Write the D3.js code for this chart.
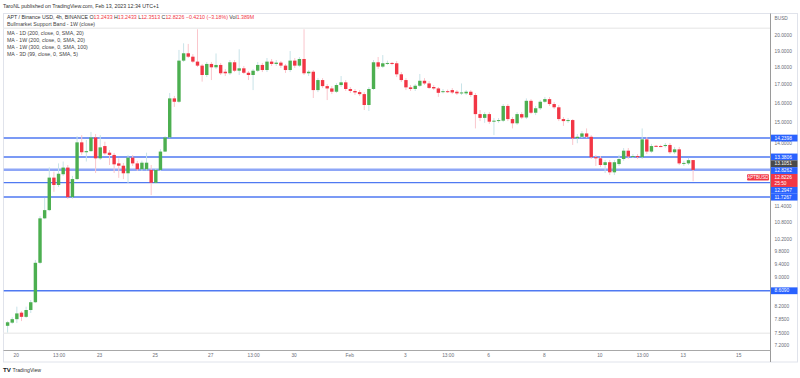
<!DOCTYPE html>
<html>
<head>
<meta charset="utf-8">
<script src="https://cdn.jsdelivr.net/npm/d3@7"></script>
<style>
  body { margin: 0; background: #fff; }
  svg { display: block; font-family: "Liberation Sans", Arial, sans-serif; }
</style>
</head>
<body>
<div id="chart"></div>
<script>
// APT / BUSD, 4h candles, times written as UTC+1 wall clock
const firstCandle = "2023-01-19T17:00";

const opens = [
    7.67, 7.75, 7.84, 8.01, 7.90, 8.08, 8.29, 9.44, 10.93, 11.23,
    12.50, 12.20, 12.64, 12.92, 11.72, 12.44, 14.04, 13.59, 13.64, 14.27,
    13.32, 13.87, 13.57, 13.47, 13.10, 13.00, 12.68, 13.35, 13.10, 12.85,
    12.85, 12.82, 12.29, 12.82, 13.62, 14.27, 16.23, 16.05, 18.38, 18.83,
    18.62, 18.32, 18.08, 17.53, 18.18, 17.98, 18.12, 17.72, 17.63, 18.28,
    17.78, 17.92, 17.66, 17.53, 17.78, 18.12, 17.82, 18.32, 18.18, 18.26,
    18.08, 17.82, 18.38, 18.08, 18.48, 17.63, 17.72, 16.68, 17.24, 16.90,
    16.77, 16.59, 16.96, 17.11, 16.74, 16.63, 16.57, 16.46, 15.88, 16.74,
    18.28, 18.02, 18.22, 18.24, 18.22, 17.57, 17.24, 16.83, 16.74, 16.92,
    17.20, 17.05, 16.85, 16.77, 16.57, 16.62, 16.68, 16.59, 16.50, 16.50,
    16.59, 16.41, 15.41, 15.22, 15.41, 15.03, 15.06, 15.08, 15.83, 15.16,
    14.95, 15.41, 15.24, 16.10, 15.48, 15.71, 16.05, 16.19, 15.93, 15.76,
    15.16, 15.06, 15.11, 14.23, 14.30, 14.46, 14.30, 13.37, 13.32, 13.03,
    13.15, 12.72, 13.07, 13.29, 13.66, 13.40, 13.42, 13.37, 14.18, 13.62,
    13.88, 13.87, 13.87, 13.92, 13.59, 13.72, 13.10, 13.10, 13.2433
];
const highs = [
    7.79, 7.89, 8.17, 8.05, 8.17, 8.35, 9.53, 11.01, 11.69, 12.93,
    12.75, 13.10, 13.18, 13.03, 12.57, 14.33, 14.38, 14.15, 14.53, 14.43,
    14.38, 14.07, 13.69, 13.56, 13.32, 13.12, 13.47, 13.47, 13.21, 13.22,
    13.57, 13.03, 12.90, 13.73, 14.33, 16.52, 16.36, 19.04, 19.46, 19.42,
    18.78, 20.38, 18.18, 18.30, 18.30, 18.82, 18.24, 17.88, 18.42, 18.42,
    19.08, 18.06, 17.76, 17.88, 18.30, 18.24, 18.54, 18.48, 18.42, 18.36,
    18.18, 18.97, 18.54, 18.60, 20.38, 17.82, 17.82, 17.35, 17.35, 17.02,
    16.90, 17.07, 17.47, 17.24, 16.85, 16.74, 16.68, 16.57, 16.85, 18.42,
    18.60, 18.72, 18.38, 18.30, 18.36, 17.70, 17.35, 16.96, 17.02, 17.59,
    17.35, 17.18, 16.96, 16.85, 16.74, 16.71, 16.79, 16.68, 17.05, 16.68,
    16.68, 16.52, 15.62, 15.51, 15.51, 15.21, 15.21, 15.93, 15.93, 15.26,
    15.51, 15.51, 16.23, 16.19, 15.83, 16.14, 16.31, 16.30, 16.04, 15.88,
    15.26, 15.21, 15.16, 14.43, 14.57, 14.70, 14.38, 13.47, 13.42, 13.25,
    13.25, 13.25, 13.47, 13.78, 13.78, 13.51, 13.51, 14.70, 14.29, 13.97,
    13.92, 13.93, 14.01, 14.01, 13.83, 13.83, 13.21, 13.34, 13.2433
];
const lows = [
    7.50, 7.72, 7.74, 7.79, 7.87, 8.00, 8.27, 9.40, 10.90, 11.19,
    11.93, 12.12, 12.57, 11.65, 11.66, 12.40, 13.47, 13.18, 13.60, 12.69,
    13.25, 13.47, 13.03, 12.69, 12.49, 12.44, 12.28, 12.99, 12.78, 12.78,
    12.80, 11.80, 12.24, 12.78, 13.60, 14.24, 15.78, 15.99, 18.30, 18.54,
    18.24, 18.00, 17.15, 17.41, 17.24, 17.88, 17.53, 17.47, 17.53, 17.70,
    17.53, 17.59, 17.24, 16.68, 17.70, 17.70, 17.70, 18.06, 18.06, 17.94,
    17.65, 17.70, 17.94, 18.00, 17.53, 17.47, 16.25, 16.57, 16.79, 16.14,
    16.46, 16.52, 16.85, 16.63, 16.52, 16.41, 16.36, 15.62, 15.57, 16.68,
    17.88, 17.94, 18.12, 18.10, 17.41, 17.13, 16.68, 16.63, 16.63, 16.85,
    16.96, 16.74, 16.68, 16.31, 16.50, 16.52, 16.46, 16.41, 16.41, 16.41,
    16.30, 14.70, 15.06, 14.97, 14.92, 14.38, 14.97, 15.01, 15.06, 14.70,
    14.87, 15.16, 15.16, 15.41, 15.36, 15.62, 15.99, 15.83, 15.67, 15.06,
    14.82, 14.97, 13.92, 14.00, 14.24, 14.24, 13.29, 12.99, 12.94, 12.69,
    12.61, 12.61, 12.99, 13.21, 13.29, 13.34, 13.29, 13.29, 13.51, 13.56,
    13.83, 13.82, 13.80, 13.51, 13.51, 13.03, 12.99, 13.03, 12.3513
];
const closes = [
    7.76, 7.84, 7.99, 7.90, 8.08, 8.29, 9.44, 10.93, 11.23, 12.50,
    12.20, 12.66, 12.92, 11.72, 12.44, 14.04, 13.59, 13.64, 14.27, 13.32,
    13.81, 13.54, 13.47, 13.06, 13.00, 12.68, 13.35, 13.10, 12.85, 13.13,
    13.13, 12.29, 12.82, 13.62, 14.27, 16.23, 16.05, 18.38, 18.83, 18.62,
    18.32, 18.08, 17.53, 18.18, 17.98, 18.12, 17.63, 17.63, 18.28, 17.78,
    17.92, 17.66, 17.53, 17.78, 18.12, 17.82, 18.32, 18.18, 18.26, 18.08,
    17.82, 18.38, 18.08, 18.48, 17.63, 17.72, 16.68, 17.24, 16.90, 16.77,
    16.59, 16.96, 17.11, 16.74, 16.63, 16.55, 16.46, 15.88, 16.74, 18.28,
    18.02, 18.22, 18.24, 18.20, 17.57, 17.24, 16.83, 16.74, 16.92, 17.20,
    17.05, 16.80, 16.77, 16.53, 16.62, 16.59, 16.55, 16.50, 16.55, 16.59,
    16.41, 15.41, 15.22, 15.41, 15.03, 15.08, 15.11, 15.83, 15.16, 14.95,
    15.41, 15.24, 16.10, 15.48, 15.71, 16.05, 16.19, 15.93, 15.76, 15.16,
    15.06, 15.11, 14.23, 14.30, 14.46, 14.30, 13.37, 13.32, 13.03, 13.15,
    12.72, 13.15, 13.29, 13.66, 13.40, 13.42, 13.37, 14.18, 13.62, 13.87,
    13.86, 13.85, 13.92, 13.59, 13.72, 13.10, 13.12, 13.24, 12.8226
];

const priceTicks = [20, 19, 18, 17, 16, 15, 14, 11.4, 10.8, 10.2, 9.8, 9.4, 9, 8.2, 7.85, 7.5, 7.2];
const timeTicks = ["2023-01-20T00:00", "2023-01-21T13:00", "2023-01-23T00:00", "2023-01-25T00:00",
    "2023-01-27T00:00", "2023-01-28T13:00", "2023-01-30T00:00", "2023-02-01T00:00", "2023-02-03T00:00",
    "2023-02-04T13:00", "2023-02-06T00:00", "2023-02-08T00:00", "2023-02-10T00:00", "2023-02-11T13:00",
    "2023-02-13T00:00", "2023-02-15T00:00"];
const timeLabels = ["20", "13:00", "23", "25", "27", "13:00", "30", "Feb", "3", "13:00", "6", "8", "10", "13:00", "13", "15"];

// horizontal support / resistance lines drawn on the chart
const levels = [14.2398, 13.3806, 12.8262, 12.2947, 11.7267, 8.609];
const maValue = 13.1051;
const lastPrice = 12.8226;
const countdown = "25:50";

const legendLines = [
    "Bullmarket Support Band - 1W (close)",
    "MA - 1D (200, close, 0, SMA, 20)",
    "MA - 1W (200, close, 0, SMA, 20)",
    "MA - 1W (300, close, 0, SMA, 100)",
    "MA - 3D (99, close, 0, SMA, 5)"
];

function createCandleChart() {
    var width = 800;
    var height = 378;
    var plot = {left: 3.5, right: 770, top: 13.5, bottom: 350};

    var parseTime = d3.utcParse("%Y-%m-%dT%H:%M");
    var t0 = parseTime(firstCandle);

    var data = opens.map((o, i) => ({
        t: d3.utcHour.offset(t0, 4 * i),
        o: o, h: highs[i], l: lows[i], c: closes[i]
    }));

    var x = d3.scaleUtc()
        .domain([parseTime("2023-01-20T00:00"), parseTime("2023-02-13T00:00")])
        .range([15.7, 682.7]);

    var y = d3.scaleLog()
        .domain([7.2, 20])
        .range([345, 35]);

    var green = "#4caf50", red = "#f23645";
    var bodyW = 3.4;

    var svg = d3.select("#chart")
        .append("svg")
            .attr("viewBox", [0, 0, width, height])
            .attr("width", width)
            .attr("height", height);

    svg.append("defs").append("clipPath").attr("id", "plot")
        .append("rect")
            .attr("x", plot.left).attr("y", plot.top)
            .attr("width", plot.right - plot.left).attr("height", plot.bottom - plot.top);

    // header
    svg.append("text")
        .attr("x", 3).attr("y", 7.6)
        .attr("font-size", 5.25).attr("fill", "#333")
        .text("TaroNL published on TradingView.com, Feb 13, 2023 12:34 UTC+1");

    // frame
    svg.append("rect")
        .attr("x", 3.5).attr("y", 13.5).attr("width", 794).attr("height", 348.5)
        .attr("fill", "none").attr("stroke", "#e0e3eb").attr("stroke-width", 1);

    // faint pane lines
    svg.append("g").selectAll("line").data([28.3, 333.3]).join("line")
        .attr("x1", plot.left).attr("x2", plot.right)
        .attr("y1", d => d).attr("y2", d => d)
        .attr("stroke", "#ededed").attr("stroke-width", 1.4);

    var chart = svg.append("g").attr("clip-path", "url(#plot)");

    // level lines
    chart.append("g").selectAll("line").data(levels).join("line")
        .attr("x1", plot.left).attr("x2", plot.right)
        .attr("y1", d => y(d)).attr("y2", d => y(d))
        .attr("stroke", d => d === 12.8262 ? "#8ea6f7" : "#4f79f2")
        .attr("stroke-width", d => d === 12.8262 ? 2.4 : 1.4);

    // wicks
    chart.append("g").selectAll("line").data(data).join("line")
        .attr("x1", d => x(d.t)).attr("x2", d => x(d.t))
        .attr("y1", d => y(d.h)).attr("y2", d => y(d.l))
        .attr("stroke", d => d.c >= d.o ? "#c8e3e8" : "#fac6cc")
        .attr("stroke-width", 1);

    // bodies
    chart.append("g").selectAll("rect").data(data).join("rect")
        .attr("x", d => x(d.t) - bodyW / 2)
        .attr("width", bodyW)
        .attr("y", d => y(Math.max(d.o, d.c)))
        .attr("height", d => Math.max(1, Math.abs(y(d.o) - y(d.c))))
        .attr("fill", d => d.c >= d.o ? green : red);

    // price axis
    svg.append("line")
        .attr("x1", plot.right + 0.5).attr("x2", plot.right + 0.5)
        .attr("y1", 13.5).attr("y2", 362)
        .attr("stroke", "#9a9a9a").attr("stroke-width", 1);

    svg.append("g")
        .attr("transform", `translate(${plot.right},0)`)
        .call(d3.axisRight(y).tickValues(priceTicks).tickFormat(d3.format(".4f")).tickSize(0).tickPadding(4.5))
        .call(g => g.select(".domain").remove())
        .call(g => g.selectAll("text").attr("font-size", 4.8).attr("fill", "#6a6d78").attr("font-family", null));

    svg.append("text")
        .attr("x", 774.5).attr("y", 19.5)
        .attr("font-size", 4.8).attr("fill", "#6a6d78")
        .text("BUSD");

    // time axis
    svg.append("line")
        .attr("x1", plot.left).attr("x2", plot.right + 0.5)
        .attr("y1", plot.bottom + 0.5).attr("y2", plot.bottom + 0.5)
        .attr("stroke", "#a8a8a8").attr("stroke-width", 1);

    svg.append("g")
        .attr("transform", `translate(0,${plot.bottom})`)
        .call(d3.axisBottom(x).tickValues(timeTicks.map(parseTime)).tickFormat((d, i) => timeLabels[i]).tickSize(0).tickPadding(4))
        .call(g => g.select(".domain").remove())
        .call(g => g.selectAll("text").attr("font-size", 4.8).attr("fill", "#6a6d78").attr("font-family", null));

    // price labels on the axis, pushed apart when they collide
    var labels = levels.map(v => ({v: v, kind: "level"}))
        .concat([{v: maValue, kind: "ma"}, {v: lastPrice, kind: "last"}]);
    labels.forEach(d => { d.h = d.kind === "last" ? 13 : 6.8; d.top = y(d.v) - 3.4; });
    labels.sort((a, b) => a.top - b.top || (a.kind === "last") - (b.kind === "last"));
    for (var i = 1; i < labels.length; i++) {
        var prev = labels[i - 1];
        if (labels[i].top < prev.top + prev.h) labels[i].top = prev.top + prev.h;
    }
    var fills = {level: "#2962ff", ma: "#4a4a4a", last: red};

    var lab = svg.append("g").selectAll("g").data(labels).join("g");
    lab.append("rect")
        .attr("x", plot.right + 1).attr("y", d => d.top)
        .attr("width", 26.5).attr("height", d => d.h)
        .attr("fill", d => fills[d.kind]);
    lab.append("text")
        .attr("x", 774.5).attr("y", d => d.top + 5)
        .attr("font-size", 4.8).attr("fill", "#fff")
        .text(d => d3.format(".4f")(d.v));
    lab.filter(d => d.kind === "last").append("text")
        .attr("x", 774.5).attr("y", d => d.top + 11.3)
        .attr("font-size", 4.8).attr("fill", "#fff")
        .text(countdown);

    // symbol tag next to the axis
    var lastLab = labels.find(d => d.kind === "last");
    svg.append("rect")
        .attr("x", 747).attr("y", lastLab.top + 0.2)
        .attr("width", 22).attr("height", 6.4)
        .attr("rx", 1).attr("fill", red);
    svg.append("text")
        .attr("x", 758).attr("y", lastLab.top + 4.9)
        .attr("text-anchor", "middle")
        .attr("font-size", 4.5).attr("fill", "#fff")
        .text("APTBUSD");

    // legend
    var leg = svg.append("text")
        .attr("x", 7).attr("y", 19.2)
        .attr("font-size", 5.25).attr("fill", "#333");
    leg.append("tspan").text("APT / Binance USD, 4h, BINANCE  ");
    [["O", "13.2433"], ["H", "13.2433"], ["L", "12.3513"], ["C", "12.8226"]].forEach(p => {
        leg.append("tspan").text(p[0]);
        leg.append("tspan").attr("fill", red).text(p[1] + " ");
    });
    leg.append("tspan").attr("fill", red).text("\u22120.4210 (\u22123.18%) ");
    leg.append("tspan").text("Vol");
    leg.append("tspan").attr("fill", red).text("1.389M");

    svg.append("g").selectAll("text").data(legendLines).join("text")
        .attr("x", 7)
        .attr("y", (d, i) => i === 0 ? 26.4 : 35 + (i - 1) * 7.1)
        .attr("font-size", 5.25).attr("fill", "#444")
        .text(d => d);

    // footer logo
    svg.append("text")
        .attr("x", 3).attr("y", 372)
        .attr("font-size", 6.2).attr("font-weight", "bold").attr("fill", "#131722")
        .text("TV");
    svg.append("text")
        .attr("x", 12.5).attr("y", 372)
        .attr("font-size", 5.2).attr("fill", "#333")
        .text("TradingView");
}

createCandleChart();
</script>
</body>
</html>
